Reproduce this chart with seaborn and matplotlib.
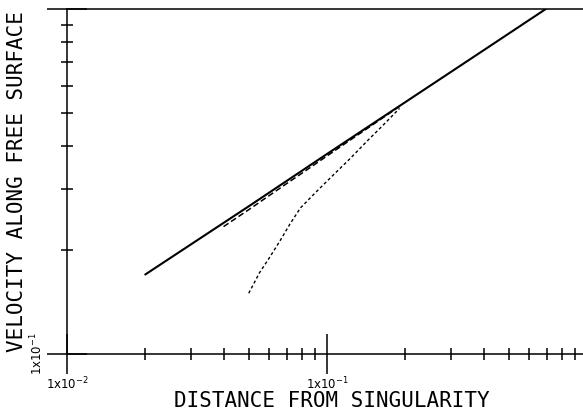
import matplotlib
matplotlib.use("Agg")
import matplotlib.pyplot as plt
import seaborn as sns
import pandas as pd
from matplotlib.ticker import FixedLocator, FixedFormatter, NullFormatter

# ---- data (log-log) ----
solid_x = [0.02, 0.05, 0.10, 0.20, 0.40, 0.694]
solid_y = [0.170, 0.268, 0.380, 0.537, 0.759, 1.0]

dashed_x = [0.040, 0.050, 0.060, 0.070, 0.080, 0.100, 0.120, 0.150, 0.190]
dashed_y = [0.234, 0.262, 0.288, 0.312, 0.334, 0.375, 0.412, 0.462, 0.522]

dotted_x = [0.050, 0.055, 0.060, 0.066, 0.072, 0.079, 0.090, 0.103, 0.122, 0.143, 0.165, 0.190]
dotted_y = [0.150, 0.172, 0.190, 0.213, 0.238, 0.265, 0.293, 0.324, 0.367, 0.415, 0.462, 0.515]

x_major = [0.01, 0.1]
x_major_labels = ["1x10$^{-2}$", "1x10$^{-1}$"]
x_minor = [0.02, 0.03, 0.04, 0.05, 0.06, 0.07, 0.08, 0.09,
           0.2, 0.3, 0.4, 0.5, 0.6, 0.7, 0.8, 0.9]
y_major = [0.1, 1.0]
y_major_labels = ["1x10$^{-1}$", ""]
y_minor = [0.2, 0.3, 0.4, 0.5, 0.6, 0.7, 0.8, 0.9]

x_label = "DISTANCE FROM SINGULARITY"
y_label = "VELOCITY ALONG FREE SURFACE"

sns.set_style("white")
plt.rcParams["font.family"] = ["DejaVu Sans"]
plt.rcParams["text.color"] = "black"
plt.rcParams["axes.labelcolor"] = "black"
plt.rcParams["xtick.color"] = "black"
plt.rcParams["ytick.color"] = "black"

fig = plt.figure(figsize=(5.83, 4.12), dpi=100)
ax = fig.add_axes([67 / 583, 58 / 412, 516 / 583, 345 / 412])
ax.set_xscale("log")
ax.set_yscale("log")

sns.lineplot(x=solid_x, y=solid_y, ax=ax, color="black", linewidth=1.5,
             sort=False, estimator=None)
sns.lineplot(x=dashed_x, y=dashed_y, ax=ax, color="black", linewidth=1.1,
             sort=False, estimator=None, linestyle=(0, (3.9, 2.0)))
sns.lineplot(x=dotted_x, y=dotted_y, ax=ax, color="black", linewidth=1.0,
             sort=False, estimator=None, linestyle=(0, (2.2, 1.8)))

ax.set_xlim(0.01, 0.965)
ax.set_ylim(0.1, 1.0)

ax.xaxis.set_major_locator(FixedLocator(x_major))
ax.xaxis.set_major_formatter(FixedFormatter(x_major_labels))
ax.xaxis.set_minor_locator(FixedLocator(x_minor))
ax.xaxis.set_minor_formatter(NullFormatter())
ax.yaxis.set_major_locator(FixedLocator(y_major))
ax.yaxis.set_major_formatter(FixedFormatter(y_major_labels))
ax.yaxis.set_minor_locator(FixedLocator(y_minor))
ax.yaxis.set_minor_formatter(NullFormatter())

ax.tick_params(which="both", bottom=True, left=True, top=False, right=False)
ax.tick_params(which="major", direction="inout", length=29, width=1.1,
               color="black", labelcolor="black", labelsize=8.5, pad=1)
ax.tick_params(which="minor", direction="inout", length=8.5, width=1.1,
               color="black")
ax.tick_params(axis="y", which="major", labelrotation=90)
for lab in ax.get_yticklabels():
    lab.set_verticalalignment("center")

for side in ["left", "bottom", "top"]:
    ax.spines[side].set_visible(True)
    ax.spines[side].set_linewidth(1.1)
    ax.spines[side].set_color("black")
ax.spines["right"].set_visible(False)

ax.set_xlabel(x_label, fontsize=15, family="DejaVu Sans Mono", color="black")
ax.set_ylabel(y_label, fontsize=15, family="DejaVu Sans Mono", color="black")
ax.xaxis.set_label_coords(0.5136, -0.108)
ax.yaxis.set_label_coords(-0.078, 0.5)

fig.savefig("out.png", dpi=100)
